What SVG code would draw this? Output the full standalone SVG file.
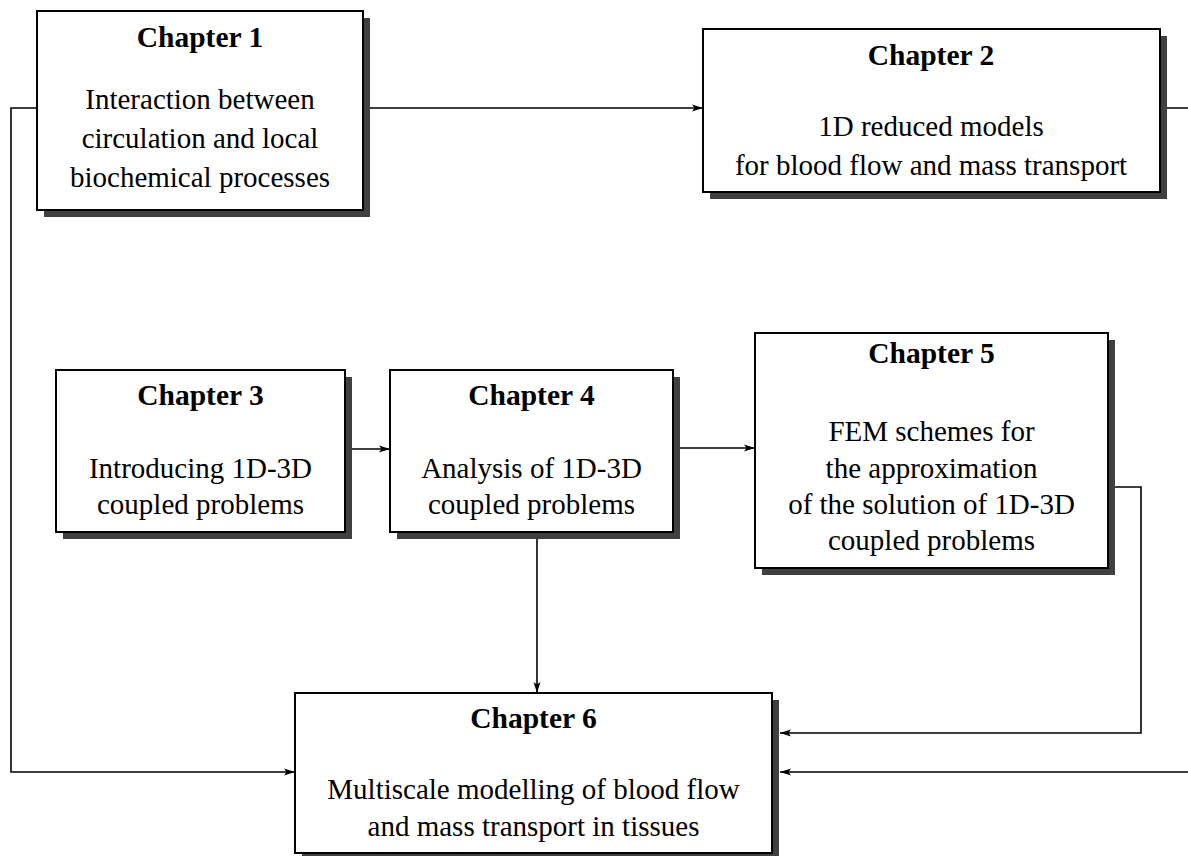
<svg xmlns="http://www.w3.org/2000/svg" width="1188" height="856" viewBox="0 0 1188 856">
<style>
.shadow{fill:#404040;stroke:none}
.box{fill:#fff;stroke:#000;stroke-width:2}
.title{font-family:"Liberation Serif","Times New Roman",serif;font-size:29.5px;font-weight:bold;text-anchor:middle;fill:#000}
.body{font-family:"Liberation Serif","Times New Roman",serif;font-size:29px;text-anchor:middle;fill:#000}
.conn{fill:none;stroke:#000;stroke-width:1.6}
</style>
<defs>
<marker id="arr" markerUnits="userSpaceOnUse" markerWidth="12" markerHeight="10" refX="11" refY="4" orient="auto">
<path d="M0,0.5 L11,4 L0,7.5 L2.5,4 Z" fill="#000"/>
</marker>
</defs>
<rect width="1188" height="856" fill="#fff"/>
<g id="connectors">
<path class="conn" d="M370,108 H703" marker-end="url(#arr)"/>
<path class="conn" d="M1166,108 H1200 V772 H780" marker-end="url(#arr)"/>
<path class="conn" d="M37,108 H11 V772 H295" marker-end="url(#arr)"/>
<path class="conn" d="M352,449 H390" marker-end="url(#arr)"/>
<path class="conn" d="M680,448 H755" marker-end="url(#arr)"/>
<path class="conn" d="M537,538 V693" marker-end="url(#arr)"/>
<path class="conn" d="M1114,487 H1141 V733 H780" marker-end="url(#arr)"/>
</g>
<g id="ch1">
<rect class="shadow" x="44" y="18" width="326" height="199"/>
<rect class="box" x="37" y="11" width="326" height="199"/>
<text class="title" x="200" y="47">Chapter 1</text>
<text class="body" x="200" y="109">Interaction between</text>
<text class="body" x="200" y="148">circulation and local</text>
<text class="body" x="200" y="187">biochemical processes</text>
</g>
<g id="ch2">
<rect class="shadow" x="710" y="36" width="457" height="163"/>
<rect class="box" x="703" y="29" width="457" height="163"/>
<text class="title" x="931" y="65">Chapter 2</text>
<text class="body" x="931" y="136">1D reduced models</text>
<text class="body" x="931" y="175">for blood flow and mass transport</text>
</g>
<g id="ch3">
<rect class="shadow" x="63" y="377" width="289" height="162"/>
<rect class="box" x="56" y="370" width="289" height="162"/>
<text class="title" x="200.5" y="405">Chapter 3</text>
<text class="body" x="200.5" y="478">Introducing 1D-3D</text>
<text class="body" x="200.5" y="514">coupled problems</text>
</g>
<g id="ch4">
<rect class="shadow" x="397" y="377" width="283" height="162"/>
<rect class="box" x="390" y="370" width="283" height="162"/>
<text class="title" x="531.5" y="405">Chapter 4</text>
<text class="body" x="531.5" y="478">Analysis of 1D-3D</text>
<text class="body" x="531.5" y="514">coupled problems</text>
</g>
<g id="ch5">
<rect class="shadow" x="762" y="340" width="353" height="235"/>
<rect class="box" x="755" y="333" width="353" height="235"/>
<text class="title" x="931.5" y="363">Chapter 5</text>
<text class="body" x="931.5" y="441">FEM schemes for</text>
<text class="body" x="931.5" y="478">the approximation</text>
<text class="body" x="931.5" y="514">of the solution of 1D-3D</text>
<text class="body" x="931.5" y="550">coupled problems</text>
</g>
<g id="ch6">
<rect class="shadow" x="302" y="700" width="477" height="160"/>
<rect class="box" x="295" y="693" width="477" height="160"/>
<text class="title" x="533.5" y="728">Chapter 6</text>
<text class="body" x="533.5" y="799">Multiscale modelling of blood flow</text>
<text class="body" x="533.5" y="836">and mass transport in tissues</text>
</g>
</svg>
